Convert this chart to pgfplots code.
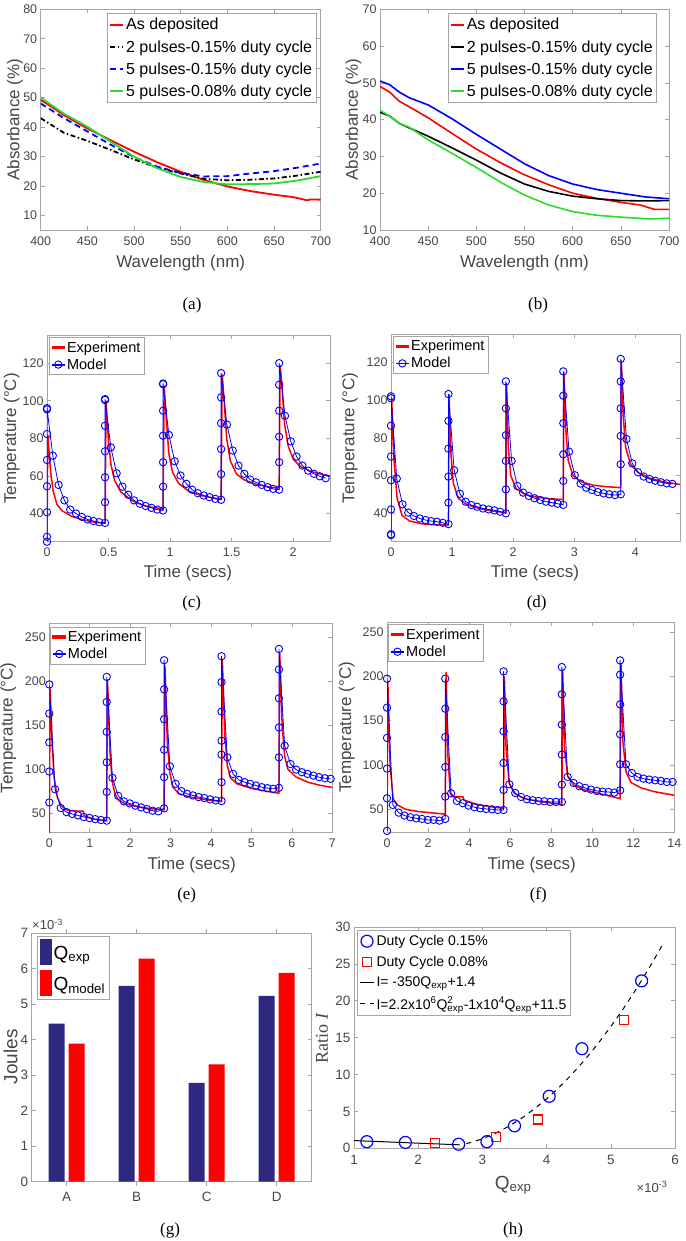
\documentclass[border=0pt]{standalone}
\usepackage{fontspec}
\setmainfont{Liberation Sans}
\newfontfamily\serif{Liberation Serif}
\usepackage{pgfplots}
\pgfplotsset{compat=1.18}

\definecolor{mred}{RGB}{255,0,0}
\definecolor{mblue}{RGB}{0,0,255}
\definecolor{mgreen}{RGB}{40,220,40}
\definecolor{navy}{RGB}{46,41,128}
\definecolor{axgray}{RGB}{165,165,165}
\definecolor{txtgray}{RGB}{70,70,70}

\newcommand{\fs}[1]{\fontsize{#1}{#1}\selectfont}

\pgfplotsset{
  mat/.style={
    scale only axis, anchor=south west,
    axis line style={axgray, line width=0.8pt},
    every tick/.style={axgray, line width=0.6pt},
    major tick length=4pt,
    tick align=inside,
    ticklabel style={font=\fs{12.5}, text=txtgray},
    xticklabel style={yshift=-3pt},
    /pgf/number format/assume math mode=true,
    label style={font=\fs{17}, text=txtgray},
    legend style={draw=axgray, line width=0.6pt, fill=white,
      inner xsep=2pt, inner ysep=2pt, anchor=north west},
    legend cell align=left,
    scaled ticks=false,
  },
  temp/.style={mat,
    legend style={font=\fs{14.5}, row sep=1pt},
    ylabel={Temperature (°C)}, xlabel={Time (secs)}},
  expt/.style={draw=mred, line width=1.5pt,
    legend image code/.code={\fill[mred] (0pt,-0.8pt) rectangle (12pt,0.8pt);}},
  modl/.style={draw=mblue, line width=0.8pt, mark=o, mark size=3.7pt, mark options={draw=mblue, line width=0.9pt},
    legend image code/.code={\fill[mblue] (0pt,-0.4pt) rectangle (12pt,0.4pt);
      \draw[mblue, line width=0.9pt] (6pt,0pt) circle (3.7pt);}},
}

\begin{document}
\begin{tikzpicture}
\useasboundingbox (0pt,0pt) rectangle (685pt,-1241pt);

% ---------- (a)
\begin{axis}[mat, at={(40.7pt,-230pt)}, width=280pt, height=220.7pt,
  xmin=400, xmax=700, ymin=5, ymax=80,
  xtick={400,450,...,700}, ytick={10,20,...,80},
  xlabel={Wavelength (nm)}, ylabel={Absorbance (\%)},
  xlabel style={at={(axis description cs:0.5,-0.151)}, anchor=center},
  ylabel style={at={(axis description cs:-0.092,0.5)}, anchor=center},
  legend image code/.code={\draw[#1] (0pt,0pt) -- (13pt,0pt);},
  legend style={at={(0.237,0.983)}, font=\fs{16}, row sep=5pt, inner ysep=3pt}]
\addplot[mred, line width=1.8pt] coordinates {(400,49.2)(410,47.2)(425,44)(450,39.5)(475,35.5)(500,31.6)(525,28)(550,24.8)(575,22)(600,19.8)(625,18.2)(650,17)(670,16.2)(680,15.5)(685,15.1)(690,15.4)(700,15.3)};
\addlegendentry{As deposited}
\addplot[black, line width=1.8pt, dash pattern=on 5pt off 2.5pt on 1.5pt off 2.5pt] coordinates {(400,43)(410,41)(425,38)(450,35.3)(475,32.2)(500,29)(525,26.2)(550,24.2)(575,22.4)(600,21.9)(625,22.1)(650,22.5)(675,23.5)(700,24.8)};
\addlegendentry{2 pulses-0.15\% duty cycle}
\addplot[mblue, line width=1.8pt, dash pattern=on 6pt off 4pt] coordinates {(400,48)(425,43)(450,38.5)(475,34)(500,29.8)(525,26.5)(550,24.4)(575,23.2)(600,23.3)(625,24.2)(650,25)(675,26.2)(700,27.6)};
\addlegendentry{5 pulses-0.15\% duty cycle}
\addplot[mgreen, line width=1.8pt] coordinates {(400,50)(425,44.5)(450,40.1)(475,35)(500,29.9)(525,26)(550,23)(575,21.3)(600,20.5)(625,20.6)(650,20.8)(675,21.8)(700,23.3)};
\addlegendentry{5 pulses-0.08\% duty cycle}
\end{axis}

% ---------- (b)
\begin{axis}[mat, at={(380pt,-230pt)}, width=289pt, height=220.7pt,
  xmin=400, xmax=700, ymin=10, ymax=70,
  xtick={400,450,...,700}, ytick={10,20,...,70},
  xlabel={Wavelength (nm)}, ylabel={Absorbance (\%)},
  xlabel style={at={(axis description cs:0.5,-0.151)}, anchor=center},
  ylabel style={at={(axis description cs:-0.092,0.5)}, anchor=center},
  legend image code/.code={\draw[#1] (0pt,0pt) -- (13pt,0pt);},
  legend style={at={(0.235,0.983)}, font=\fs{16}, row sep=5pt, inner ysep=3pt}]
\addplot[mred, line width=1.6pt] coordinates {(400,49)(410,47.5)(420,45)(435,42.8)(450,40.5)(475,36.2)(500,32)(525,28.3)(550,25)(575,22.3)(600,20)(625,18.6)(650,17.5)(670,16.8)(680,16)(685,15.6)(700,15.6)};
\addlegendentry{As deposited}
\addplot[black, line width=1.6pt] coordinates {(400,42)(410,41)(420,39)(430,37.8)(450,35.5)(475,32.3)(500,29)(525,25.5)(550,22.5)(575,20.5)(600,19.2)(625,18.5)(650,18)(675,17.9)(700,18)};
\addlegendentry{2 pulses-0.15\% duty cycle}
\addplot[mblue, line width=1.6pt] coordinates {(400,50.5)(410,49.5)(420,47.5)(430,46)(450,44)(475,40.2)(500,36)(525,32)(550,28)(575,24.8)(600,22.5)(625,21)(650,20)(675,19)(700,18.5)};
\addlegendentry{5 pulses-0.15\% duty cycle}
\addplot[mgreen, line width=1.6pt] coordinates {(400,42.5)(410,41)(420,39)(430,38)(450,34.5)(475,30.8)(500,27)(525,23)(550,19.5)(575,16.8)(600,15)(625,14)(650,13.5)(680,13)(700,13.2)};
\addlegendentry{5 pulses-0.08\% duty cycle}
\end{axis}

% ---------- (c)
\begin{axis}[temp, at={(47pt,-541.7pt)}, width=283pt, height=206.7pt,
  xmin=0, xmax=2.3, ymin=25, ymax=135,
  xtick={0,0.5,...,2}, ytick={40,60,...,120},
  xlabel style={at={(axis description cs:0.498,-0.153)}, anchor=center},
  ylabel style={at={(axis description cs:-0.125,0.5)}, anchor=center},
  legend style={at={(0.008,0.989)}}]
\addplot[expt] coordinates {(0,26)(0.006,82)(0.03,62)(0.05,52)(0.08,45)(0.12,41.6)(0.2,38.5)(0.3,36.5)(0.4,35.2)(0.4717,34.8)
(0.4717,34.8)(0.48,100)(0.5,78)(0.52,66)(0.55,57.5)(0.6,51.5)(0.7,46.5)(0.8,44)(0.9,42.8)(0.9434,42.3)
(0.9434,42.3)(0.952,108)(0.97,90)(0.99,72)(1.02,62)(1.07,56)(1.15,52)(1.25,49.6)(1.35,48.3)(1.4151,47.7)
(1.4151,47.7)(1.424,114)(1.44,100)(1.46,80)(1.49,68)(1.54,61)(1.6,58)(1.7,55.5)(1.8,54.2)(1.8868,53.6)
(1.8868,53.6)(1.895,119)(1.91,108)(1.93,88)(1.96,76)(2.0,69)(2.06,65)(2.15,62.3)(2.25,60.5)(2.3,60)};
\addlegendentry{Experiment}
\addplot[modl] coordinates {(0,25)(0,27.6)(0,40.7)(0,54.5)(0,68.5)(0,82.3)(0,95.4)(0,96.1)
(0.0472,70.8)(0.0943,55.2)(0.1415,47)(0.1887,42.1)(0.2358,40)(0.283,38.2)(0.3302,36.8)(0.3774,36)(0.4245,35.4)(0.4717,35)
(0.4717,46)(0.4717,59.3)(0.4717,73.1)(0.4717,86.7)(0.4717,100.9)(0.4717,100.4)
(0.5189,75.2)(0.566,61.4)(0.6132,54.3)(0.6604,50)(0.7075,47)(0.7547,45.2)(0.8019,44)(0.8491,43)(0.8962,42.1)(0.9434,41.6)
(0.9434,54.3)(0.9434,67.3)(0.9434,81.4)(0.9434,94.7)(0.9434,108.8)(0.9434,109.2)
(0.9906,81.8)(1.0377,67.8)(1.0849,60.2)(1.1321,55.8)(1.1792,52.7)(1.2264,50.8)(1.2736,49.6)(1.3208,48.7)(1.3679,47.8)(1.4151,47.3)
(1.4151,61)(1.4151,74.3)(1.4151,88.1)(1.4151,101.8)(1.4151,114.7)
(1.4623,87.3)(1.5094,73.5)(1.5566,65.5)(1.6038,61.1)(1.6509,58.1)(1.6981,56.6)(1.7453,55.2)(1.7925,54)(1.8396,53.1)(1.8868,52.7)
(1.8868,67.3)(1.8868,80.9)(1.8868,94.7)(1.8868,108.5)(1.8868,120)
(1.934,92)(1.9811,78.4)(2.0283,70.3)(2.0755,65.5)(2.1226,62.8)(2.1698,61.1)(2.217,59.8)(2.2642,58.8)};
\addlegendentry{Model}
\end{axis}

% ---------- (d)
\begin{axis}[temp, at={(391pt,-541.7pt)}, width=289pt, height=207.7pt,
  xmin=0, xmax=4.73, ymin=25, ymax=135,
  xtick={0,...,4}, ytick={40,60,...,120},
  xlabel style={at={(axis description cs:0.498,-0.152)}, anchor=center},
  ylabel style={at={(axis description cs:-0.142,0.5)}, anchor=center},
  legend style={at={(0.008,0.99)}}]
\addplot[expt] coordinates {(0,28)(0.01,101)(0.05,68)(0.1,48)(0.18,39)(0.3,36)(0.5,34.5)(0.7,34)(0.94,33.8)
(0.94,33.8)(0.95,103)(0.98,72)(1.02,56)(1.1,48)(1.25,44.5)(1.45,42.5)(1.65,41.3)(1.88,40.4)
(1.88,40.4)(1.89,109)(1.92,75)(1.96,60)(2.05,53)(2.2,50)(2.4,48.5)(2.6,47.8)(2.82,47.3)
(2.82,47.3)(2.83,115)(2.86,85)(2.9,68)(2.98,60)(3.1,57)(3.3,55)(3.5,54.2)(3.76,53.6)
(3.76,53.6)(3.77,121)(3.8,92)(3.84,75)(3.92,66)(4.05,61.5)(4.25,58.5)(4.45,56.8)(4.73,55.3)};
\addlegendentry{Experiment}
\addplot[modl] coordinates {(0,28.5)(0,29)(0,42.1)(0,57.5)(0,70.1)(0,86.4)(0,101)(0,102)
(0.094,58.4)(0.188,44.8)(0.282,40.4)(0.376,38.6)(0.47,37.3)(0.564,36.5)(0.658,35.9)(0.752,35.6)(0.846,35)(0.94,34.3)
(0.94,45.7)(0.94,59.5)(0.94,74.3)(0.94,89)(0.94,103.2)
(1.034,62.8)(1.128,50.4)(1.222,46.2)(1.316,44.4)(1.41,43.5)(1.504,42.6)(1.598,42.1)(1.692,41.6)(1.786,40.9)(1.88,40)
(1.88,52.7)(1.88,67.8)(1.88,81.4)(1.88,95.6)(1.88,109.9)
(1.974,67.8)(2.068,54.5)(2.162,51)(2.256,49.2)(2.35,48)(2.444,47.1)(2.538,46.2)(2.632,45.7)(2.726,45.1)(2.82,44.5)
(2.82,57.2)(2.82,71.3)(2.82,87.8)(2.82,102.3)(2.82,115.2)
(2.914,72.7)(3.008,60.2)(3.102,55.8)(3.196,53.6)(3.29,52.4)(3.384,51.3)(3.478,50.6)(3.572,50.1)(3.666,49.7)(3.76,50.1)
(3.76,66)(3.76,81)(3.76,95.6)(3.76,109.9)(3.76,121.8)
(3.854,79.4)(3.948,66.5)(4.042,61.8)(4.136,59.5)(4.23,58.2)(4.324,57.3)(4.418,56.5)(4.512,55.9)(4.606,55.6)};
\addlegendentry{Model}
\end{axis}

% ---------- (e)
\begin{axis}[temp, at={(49.3pt,-832.3pt)}, width=283pt, height=209pt,
  xmin=0, xmax=7, ymin=28, ymax=266,
  xtick={0,...,7}, ytick={50,100,...,250},
  xlabel style={at={(axis description cs:0.503,-0.156)}, anchor=center},
  ylabel style={at={(axis description cs:-0.145,0.5)}, anchor=center},
  legend style={at={(0.003,0.984)}}]
\addplot[expt] coordinates {(0,27)(0.02,192)(0.07,130)(0.12,90)(0.2,68)(0.3,58)(0.45,53)(0.6,52.4)(0.84,52)(0.86,47)(1.1,43)(1.42,41)
(1.42,41)(1.44,202)(1.5,120)(1.55,88)(1.62,72)(1.72,64)(1.9,60)(2.2,57)(2.5,55)(2.84,53.5)
(2.84,53.5)(2.86,218)(2.92,130)(2.98,96)(3.05,80)(3.2,72)(3.5,68)(3.9,65)(4.26,63)
(4.26,63)(4.28,224)(4.34,140)(4.4,105)(4.48,90)(4.65,83)(5.0,78)(5.4,74.5)(5.68,72.5)
(5.68,72.5)(5.7,232)(5.76,150)(5.82,115)(5.9,100)(6.1,91)(6.4,85)(6.7,81.5)(7.0,79)};
\addlegendentry{Experiment}
\addplot[modl] coordinates {(0,27)(0,62)(0,97.2)(0,130.4)(0,163.2)(0,196.4)
(0.142,77)(0.284,55.7)(0.426,51)(0.568,48.9)(0.71,47.2)(0.852,45.5)(0.994,44.3)(1.136,43)(1.278,42)(1.42,41.3)
(1.42,74)(1.42,107.7)(1.42,142.4)(1.42,176.4)(1.42,205)
(1.562,90)(1.704,69.6)(1.846,63.2)(1.988,60.9)(2.13,58.3)(2.272,56.4)(2.414,54.5)(2.556,52.6)(2.698,51.9)(2.84,55.3)
(2.84,90.8)(2.84,122)(2.84,156.8)(2.84,190.8)(2.84,224)
(2.982,103.2)(3.124,83.2)(3.266,74.9)(3.408,71.9)(3.55,70)(3.692,68.1)(3.834,67)(3.976,65.5)(4.118,64.3)(4.26,63.6)
(4.26,85.1)(4.26,116.4)(4.26,132.3)(4.26,165.5)(4.26,199)(4.26,228.5)
(4.402,113.4)(4.544,94.5)(4.686,87.7)(4.828,85.1)(4.97,83.2)(5.112,81.3)(5.254,79.4)(5.396,78.3)(5.538,77.5)(5.68,78.7)
(5.68,113.4)(5.68,147.4)(5.68,180.6)(5.68,213.4)(5.68,236.8)
(5.822,126.6)(5.964,105.8)(6.106,99.4)(6.248,96.4)(6.39,94.5)(6.532,92.6)(6.674,90.8)(6.816,89.6)(6.958,88.9)};
\addlegendentry{Model}
\end{axis}

% ---------- (f)
\begin{axis}[temp, at={(387pt,-832.3pt)}, width=287.3pt, height=210pt,
  xmin=0, xmax=14, ymin=24, ymax=261,
  xtick={0,2,...,14}, ytick={50,100,...,250},
  xlabel style={at={(axis description cs:0.504,-0.156)}, anchor=center},
  ylabel style={at={(axis description cs:-0.14,0.5)}, anchor=center},
  legend style={at={(0.005,0.99)}}]
\addplot[expt] coordinates {(0,25.6)(0.04,195)(0.15,100)(0.3,62)(0.5,55)(0.9,50)(1.5,47.5)(2.84,44.5)
(2.84,45)(2.88,205)(2.97,110)(3.08,68)(3.2,64.5)(3.7,64)(3.75,60.5)(4.3,56)(5.0,53)(5.68,51)
(5.68,51)(5.72,200)(5.8,120)(5.95,80)(6.2,68)(6.7,62)(7.5,58.5)(8.52,55.5)
(8.52,55.5)(8.56,208)(8.65,120)(8.8,88)(9.1,77)(9.6,72)(10.4,67.5)(11.36,62)
(11.36,62)(11.4,215)(11.5,125)(11.65,92)(11.9,80)(12.4,74)(13.0,70)(14,65.8)};
\addlegendentry{Experiment}
\addplot[modl] coordinates {(0,25.6)(0,62.4)(0,95.9)(0,130.5)(0,164.7)(0,197.4)
(0.284,54.9)(0.568,46.2)(0.852,42.9)(1.136,41)(1.42,39.8)(1.704,39.1)(1.988,38)(2.272,38)(2.556,37.2)(2.84,39.1)
(2.84,64.3)(2.84,97.7)(2.84,131.6)(2.84,163.5)(2.84,197.4)
(3.124,68)(3.408,59.4)(3.692,56.8)(3.976,54.1)(4.26,52.3)(4.544,51.1)(4.828,50.4)(5.112,50)(5.396,49.2)(5.68,49.2)
(5.68,71.8)(5.68,102.3)(5.68,138)(5.68,171.8)(5.68,205.6)
(5.964,78.2)(6.248,68.4)(6.532,63.9)(6.816,61.3)(7.1,60.2)(7.384,59.4)(7.668,59)(7.952,58.3)(8.236,58.3)(8.52,58.3)
(8.52,77.8)(8.52,111.7)(8.52,145.5)(8.52,179.7)(8.52,210.5)
(8.804,86.5)(9.088,79.7)(9.372,76)(9.656,74.1)(9.94,72.2)(10.224,70.7)(10.508,69.9)(10.792,69.5)(11.076,68.8)(11.36,71.4)
(11.36,100.8)(11.36,134.6)(11.36,168.4)(11.36,201.9)(11.36,218)
(11.644,100.8)(11.928,91)(12.212,86.5)(12.496,84.6)(12.78,83.5)(13.064,82.7)(13.348,82)(13.632,80.8)(13.916,80.8)};
\addlegendentry{Model}
\end{axis}

% ---------- (g)
\begin{axis}[mat, ybar, bar width=16pt, at={(31.7pt,-1181.7pt)}, width=280pt, height=248.7pt,
  xmin=0.5, xmax=4.5, ymin=0, ymax=7,
  xtick={1,2,3,4}, xticklabels={A,B,C,D}, ytick={0,...,7},
  ticklabel style={font=\fs{13.5}},
  ylabel={Joules},
  ylabel style={at={(axis description cs:-0.075,0.503)}, anchor=center, font=\fs{19}},
  legend image code/.code={\path[#1,draw=none] (0pt,-12pt) rectangle (12pt,14pt);},
  legend style={at={(0.02,0.988)}, font=\fs{19}, row sep=5pt, inner ysep=3pt}]
\addplot[fill=navy, draw=none, bar shift=-10pt] coordinates {(1,4.45)(2,5.51)(3,2.78)(4,5.23)};
\addlegendentry{Q\textsubscript{exp}}
\addplot[fill=mred, draw=none, bar shift=10pt] coordinates {(1,3.89)(2,6.28)(3,3.30)(4,5.88)};
\addlegendentry{Q\textsubscript{model}}
\end{axis}

% ---------- (h)
\begin{axis}[mat, at={(354pt,-1148.3pt)}, width=321pt, height=221.3pt,
  xmin=1, xmax=6, ymin=0, ymax=30,
  xtick={1,...,6}, ytick={0,5,...,30},
  ticklabel style={font=\fs{13.5}},
  xlabel={Q\textsubscript{exp}}, ylabel={{\serif Ratio \textit{I}}},
  xlabel style={at={(axis description cs:0.496,-0.166)}, anchor=center, font=\fs{19}},
  ylabel style={at={(axis description cs:-0.1,0.497)}, anchor=center, font=\fs{18}},
  legend image code/.code={\draw[mark repeat=2,mark phase=2,#1] plot coordinates {(0pt,0pt) (7pt,0pt) (14pt,0pt)};},
  legend style={at={(0.01,0.986)}, font=\fs{14}, row sep=5pt, inner ysep=3pt}]
\addplot[only marks, mark=o, mark size=6pt, mblue, line width=1.2pt] coordinates {(1.2,0.9)(1.8,0.8)(2.63,0.55)(3.07,0.9)(3.5,3.05)(4.04,7.05)(4.55,13.5)(5.48,22.7)};
\addlegendentry{Duty Cycle 0.15\%}
\addplot[only marks, mark=square, mark size=4.5pt, mred, line width=1.2pt] coordinates {(2.26,0.7)(3.21,1.5)(3.86,3.9)(5.21,17.4)};
\addlegendentry{Duty Cycle 0.08\%}
\addplot[black, line width=1pt] coordinates {(1,1.05)(2.65,0.47)};
\addlegendentry{I= -350Q\textsubscript{exp}+1.4}
\addplot[black, line width=1pt, dash pattern=on 5pt off 5pt] coordinates {(2.75,0.64)(2.8,0.75)(2.9,1.0)(3.0,1.3)(3.2,2.03)(3.4,2.93)(3.6,4.01)(3.8,5.27)(4.0,6.7)(4.2,8.31)(4.4,10.09)(4.6,12.05)(4.8,14.19)(5.0,16.5)(5.2,18.99)(5.4,21.65)(5.6,24.49)(5.8,27.51)};
\addlegendentry{I=2.2x10\textsuperscript{6}Q\rlap{\textsuperscript{2}}\textsubscript{exp}-1x10\textsuperscript{4}Q\textsubscript{exp}+11.5}
\end{axis}

% scale factors and captions
\node[anchor=south west, font=\fs{13}, text=txtgray, inner sep=0pt] at (32pt,-930pt) {×10\textsuperscript{-3}};
\node[font=\fs{13}, text=txtgray] at (652pt,-1187pt) {×10\textsuperscript{-3}};
\node[font=\serif\fs{17}] at (192pt,-305pt) {(a)};
\node[font=\serif\fs{17}] at (538pt,-305pt) {(b)};
\node[font=\serif\fs{17}] at (191.7pt,-603.3pt) {(c)};
\node[font=\serif\fs{17}] at (536.7pt,-603.3pt) {(d)};
\node[font=\serif\fs{17}] at (186.7pt,-895pt) {(e)};
\node[font=\serif\fs{17}] at (538.3pt,-895pt) {(f)};
\node[font=\serif\fs{17}] at (170pt,-1230pt) {(g)};
\node[font=\serif\fs{17}] at (513pt,-1230pt) {(h)};
\end{tikzpicture}
\end{document}
